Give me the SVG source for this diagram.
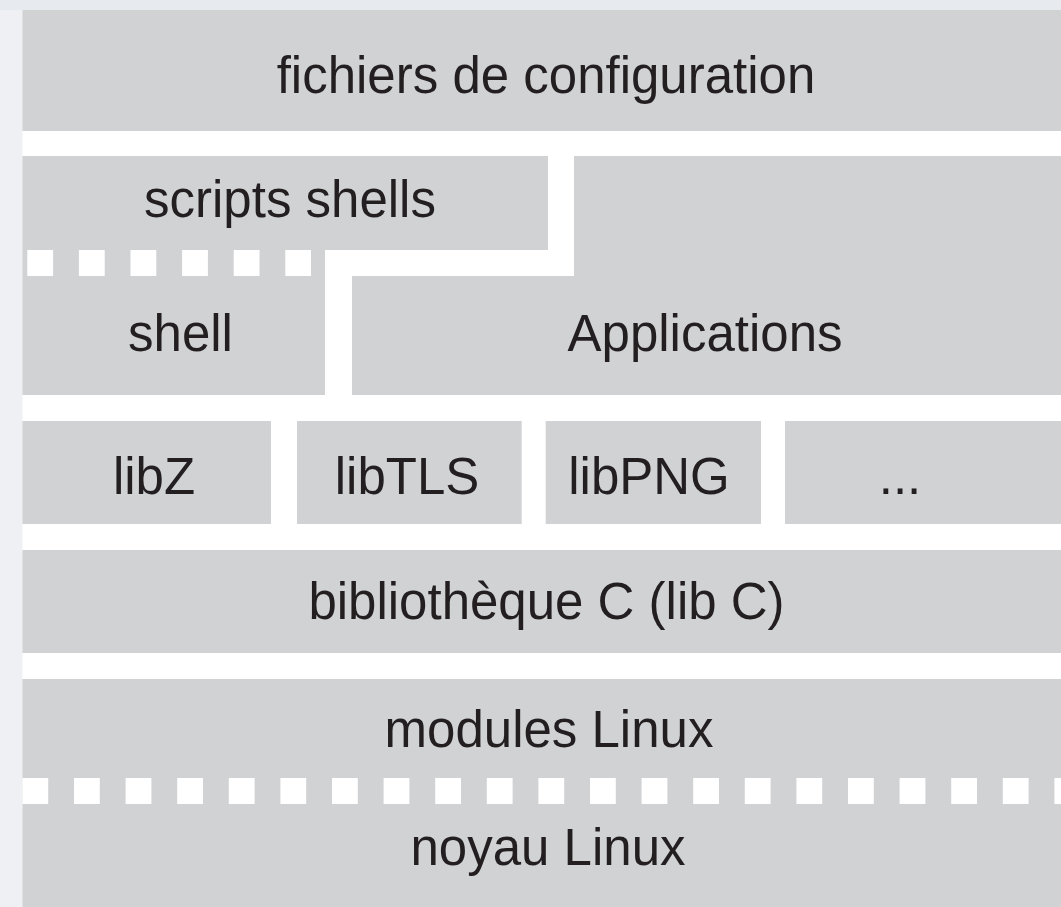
<svg xmlns="http://www.w3.org/2000/svg" width="1061" height="907" viewBox="0 0 1061 907">
  <style>
    .box { fill: #d1d2d4; }
    .lbl { font-family: "Liberation Sans", Arial, Helvetica, sans-serif; font-size: 51px; fill: #231f20; text-anchor: middle; }
    .dash { stroke: #ffffff; fill: none; }
  </style>
  <rect x="0" y="0" width="1061" height="907" fill="#eef0f4"/>
  <rect x="0" y="0" width="1061" height="10" fill="#e7eaef"/>
  <rect x="22.4" y="10" width="1038.6" height="897" fill="#ffffff"/>

  <g id="config">
    <rect class="box" x="22.4" y="10" width="1038.6" height="121"/>
    <text class="lbl" x="546" y="92.7">fichiers de configuration</text>
  </g>

  <g id="scripts-shells">
    <rect class="box" x="22.4" y="156" width="525.6" height="94"/>
    <text class="lbl" x="290" y="216.7">scripts shells</text>
  </g>

  <g id="shell">
    <rect class="box" x="22.4" y="250" width="302.6" height="145"/>
    <line class="dash" x1="27.3" y1="263" x2="311" y2="263" stroke-width="26" stroke-dasharray="25.8 25.8"/>
    <text class="lbl" x="180.5" y="351">shell</text>
  </g>

  <g id="applications">
    <polygon class="box" points="574,156 1061,156 1061,395 352,395 352,276 574,276"/>
    <text class="lbl" x="705" y="351">Applications</text>
  </g>

  <g id="libz">
    <rect class="box" x="22.4" y="421" width="248.6" height="103"/>
    <text class="lbl" x="154" y="494">libZ</text>
  </g>

  <g id="libtls">
    <rect class="box" x="297" y="421" width="224.7" height="103"/>
    <text class="lbl" x="407" y="494">libTLS</text>
  </g>

  <g id="libpng">
    <rect class="box" x="545.7" y="421" width="215.3" height="103"/>
    <text class="lbl" x="649" y="494">libPNG</text>
  </g>

  <g id="others">
    <rect class="box" x="785" y="421" width="276" height="103"/>
    <text class="lbl" x="900" y="494">...</text>
  </g>

  <g id="libc">
    <rect class="box" x="22.4" y="550" width="1038.6" height="103"/>
    <text class="lbl" x="546.5" y="619">bibliothèque C (lib C)</text>
  </g>

  <g id="modules">
    <rect class="box" x="22.4" y="679" width="1038.6" height="112"/>
    <text class="lbl" x="549" y="746.7">modules Linux</text>
  </g>

  <g id="noyau">
    <rect class="box" x="22.4" y="791" width="1038.6" height="116"/>
    <line class="dash" x1="22.4" y1="791" x2="1061" y2="791" stroke-width="26" stroke-dasharray="25.8 25.8"/>
    <text class="lbl" x="548" y="865">noyau Linux</text>
  </g>

  <g id="connectors"/>
</svg>
